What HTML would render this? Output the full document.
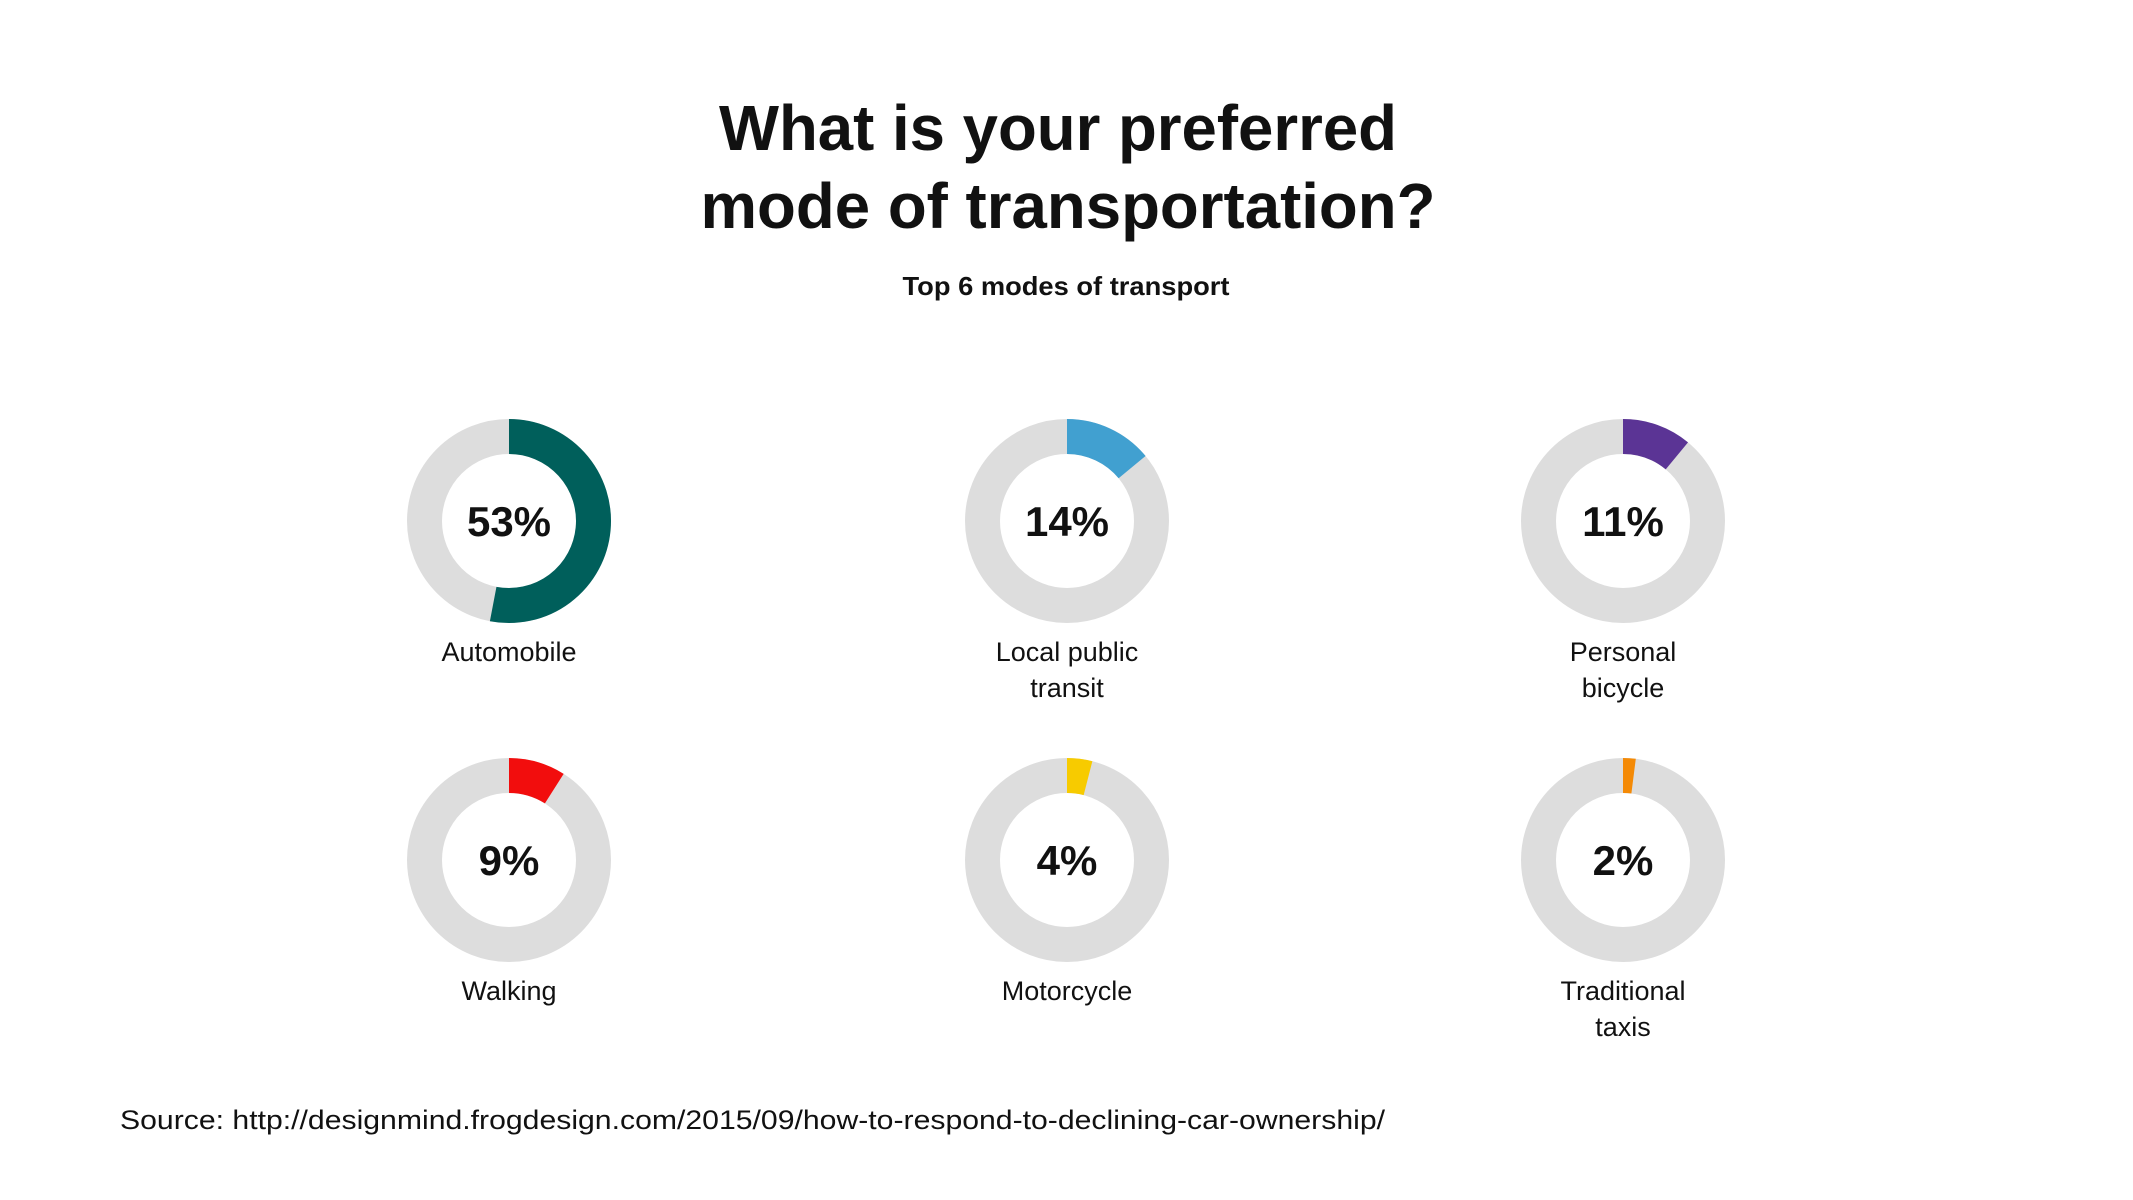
<!DOCTYPE html>
<html><head><meta charset="utf-8"><style>
html,body{margin:0;padding:0;background:#fff;}
svg{display:block;font-family:"Liberation Sans",sans-serif;}
</style></head><body>
<svg id="chart" width="2133" height="1200" viewBox="0 0 2133 1200">
<text x="1058" y="150" text-anchor="middle" font-size="64" font-weight="bold" fill="#111" textLength="678" lengthAdjust="spacingAndGlyphs">What is your preferred</text>
<text x="1068" y="228" text-anchor="middle" font-size="64" font-weight="bold" fill="#111" textLength="735" lengthAdjust="spacingAndGlyphs">mode of transportation?</text>
<text x="1066" y="295" text-anchor="middle" font-size="26" font-weight="bold" fill="#111" textLength="327" lengthAdjust="spacingAndGlyphs">Top 6 modes of transport</text>
<g id="donuts"></g>
<text x="120" y="1129" font-size="27" fill="#111" textLength="1265" lengthAdjust="spacingAndGlyphs">Source: http://designmind.frogdesign.com/2015/09/how-to-respond-to-declining-car-ownership/</text>
</svg>
<script>
const categories = ["Automobile", "Local public|transit", "Personal|bicycle", "Walking", "Motorcycle", "Traditional|taxis"];
const values = [53, 14, 11, 9, 4, 2];
const colors = ["#005f5b", "#41a0d0", "#5b3495", "#f20d0d", "#f7cb00", "#f48a06"];

const NS = "http://www.w3.org/2000/svg";
const g = document.getElementById("donuts");
const colX = [509, 1067, 1623], rowY = [521, 860];
const R = 84.5, SW = 35;
function polar(cx, cy, r, v) { const a = v / 100 * 2 * Math.PI; return [cx + r * Math.sin(a), cy - r * Math.cos(a)]; }
function mk(tag, attrs) { const e = document.createElementNS(NS, tag); for (const k in attrs) e.setAttribute(k, attrs[k]); return e; }
values.forEach((v, i) => {
  const cx = colX[i % 3], cy = rowY[Math.floor(i / 3)];
  const grp = mk("g", {});
  
  
  const bg = mk("circle", { cx: cx, cy: cy, r: R, fill: "none", stroke: "#dddddd", "stroke-width": SW });
  
  
  grp.appendChild(bg);
  const [x0, y0] = polar(cx, cy, R, 0), [x1, y1] = polar(cx, cy, R, v);
  const arc = mk("path", { d: `M${x0} ${y0} A${R} ${R} 0 ${v > 50 ? 1 : 0} 1 ${x1} ${y1}`, fill: "none", stroke: colors[i], "stroke-width": SW });
  
  
  grp.appendChild(arc);
  const pt = mk("text", { x: cx, y: cy + 15, "text-anchor": "middle", "font-size": 42, "font-weight": "bold", fill: "#111" });
  pt.textContent = v + "%";
  
  
  grp.appendChild(pt);
  categories[i].split('|').forEach((line, j) => {
    const t = mk("text", { x: cx, y: cy + 140 + j * 36, "text-anchor": "middle", "font-size": 27, fill: "#111" });
    t.textContent = line;
    
    
    grp.appendChild(t);
  });
  g.appendChild(grp);
});
</script>
</body></html>
